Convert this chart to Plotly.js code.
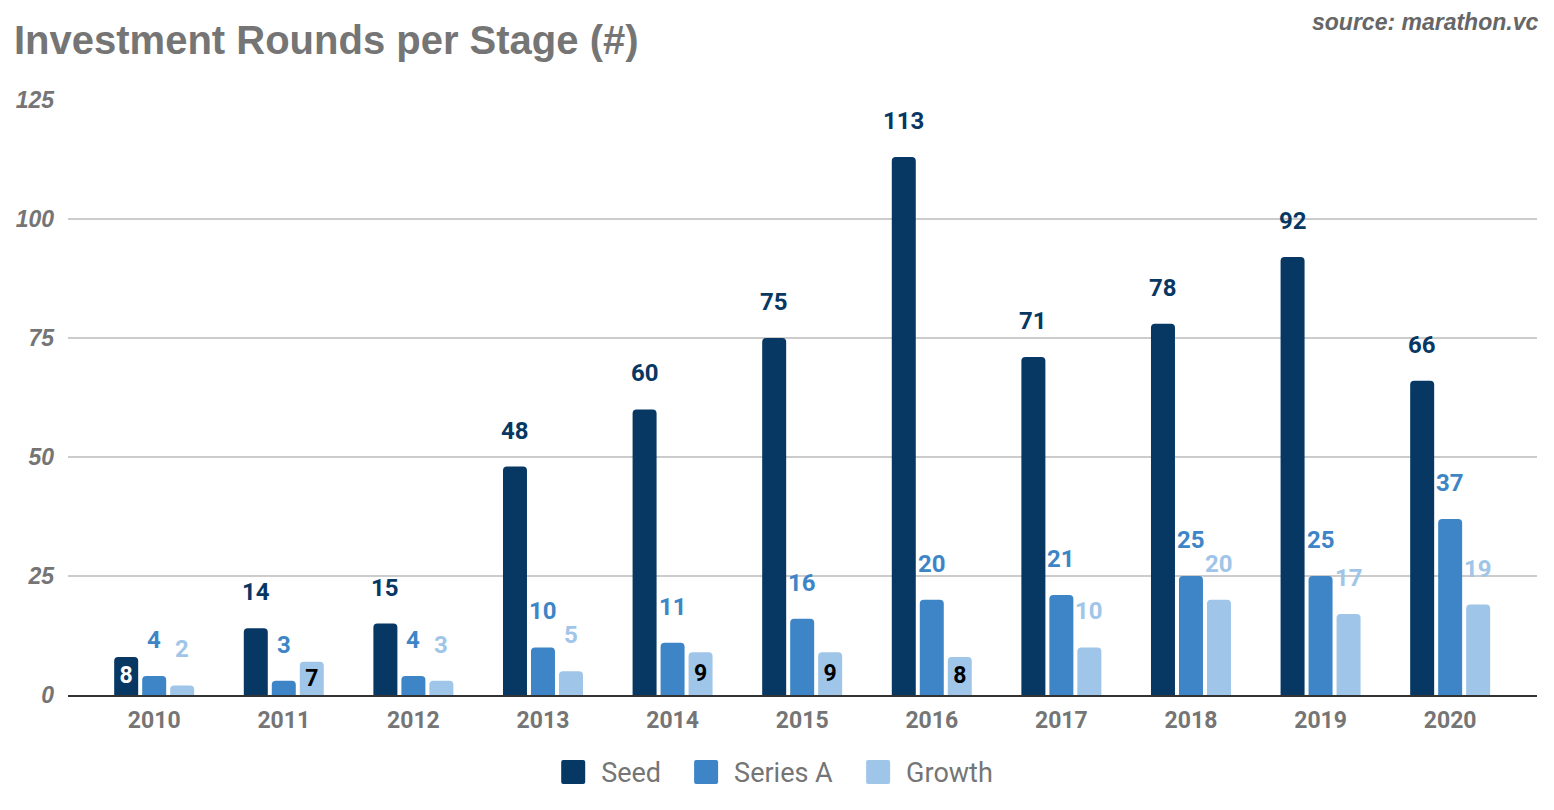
<!DOCTYPE html>
<html>
<head>
<meta charset="utf-8">
<script src="https://cdn.plot.ly/plotly-3.0.1.min.js"></script>
<style>
  html, body { margin: 0; padding: 0; background: #fff; }
  #chart { width: 1554px; height: 810px; }
</style>
</head>
<body>
<div id="chart"></div>
<script>
const years = ['2010','2011','2012','2013','2014','2015','2016','2017','2018','2019','2020'];
const seed    = [8, 14, 15, 48, 60, 75, 113, 71, 78, 92, 66];
const seriesA = [4, 3, 4, 10, 11, 16, 20, 21, 25, 25, 37];
const growth  = [2, 7, 3, 5, 9, 9, 8, 10, 20, 17, 19];
const seriesNames = ['Seed', 'Series A', 'Growth'];
const yTicks = [0, 25, 50, 75, 100, 125];

const colors = ['#073763', '#3d85c6', '#9fc5e8'];
const insideColors = ['#ffffff', '#000000', '#000000'];
const series = [seed, seriesA, growth];

const BARGAP = 0.352;
const slot = (1 - BARGAP) / 3;

// labels that sit inside the bar (small values 7..9 fit in the bar)
function isInside(v) { return v >= 7 && v <= 9; }

const traces = series.map((vals, k) => ({
  type: 'bar',
  name: seriesNames[k],
  x: years,
  y: vals,
  marker: { color: colors[k], line: { width: 0 } },
  text: vals.map(v => String(v)),
  textposition: vals.map(v => isInside(v) ? 'inside' : 'none'),
  insidetextanchor: 'middle',
  insidetextfont: { family: 'Roboto', size: 23, color: insideColors[k], weight: 'bold' },
  textangle: 0,
  cliponaxis: false,
  hoverinfo: 'x+y+name'
}));

const annotations = [];
series.forEach((vals, k) => {
  vals.forEach((v, i) => {
    if (isInside(v)) return;
    annotations.push({
      xref: 'x', yref: 'y',
      x: i + (k - 1) * slot,
      y: v,
      text: '<b>' + v + '</b>',
      showarrow: false,
      yanchor: 'middle',
      yshift: 36,
      font: { family: 'Roboto', size: 24, color: colors[k] }
    });
  });
});

annotations.push({
  xref: 'paper', yref: 'paper',
  x: 1.002, y: 1.0,
  xanchor: 'right', yanchor: 'middle',
  yshift: 78,
  text: '<b><i>source: marathon.vc</i></b>',
  showarrow: false,
  font: { family: 'Liberation Sans', size: 23, color: '#666666' }
});

const layout = {
  width: 1554,
  height: 810,
  margin: { l: 68, r: 17, t: 100, b: 115 },
  paper_bgcolor: '#ffffff',
  plot_bgcolor: '#ffffff',
  barmode: 'group',
  bargap: BARGAP,
  bargroupgap: 0.143,
  barcornerradius: 4,
  title: {
    text: '<b>Investment Rounds per Stage (#)</b>',
    x: 0.009, xanchor: 'left',
    y: 0.951, yanchor: 'middle',
    font: { family: 'Liberation Sans', size: 40, color: '#757575' }
  },
  xaxis: {
    type: 'category',
    range: [-0.665, 10.67],
    showgrid: false,
    showline: true,
    linecolor: '#333333',
    linewidth: 2,
    ticks: '',
    ticklabelstandoff: 3,
    tickfont: { family: 'Roboto', size: 23, color: '#757575', weight: 'bold' },
    fixedrange: true
  },
  yaxis: {
    range: [0, 125],
    tickvals: yTicks,
    ticktext: yTicks.map(t => '<b><i>' + t + '</i></b>'),
    showgrid: true,
    gridcolor: '#cccccc',
    gridwidth: 1.5,
    zeroline: false,
    showline: false,
    ticks: '',
    ticklabelstandoff: 13,
    tickfont: { family: 'Liberation Sans', size: 23, color: '#757575' },
    fixedrange: true
  },
  showlegend: true,
  legend: {
    orientation: 'h',
    x: 0.5, xanchor: 'center',
    y: -0.13, yanchor: 'middle',
    font: { family: 'Roboto', size: 27, color: '#757575' },
    entrywidth: 170, entrywidthmode: 'pixels',
    itemclick: false, itemdoubleclick: false,
    tracegroupgap: 0
  },
  annotations: annotations
};

// Google-Sheets-style legend entries: 24px swatch, 16px gap to text, 33px between entries
function restyleLegend() {
  const items = Array.from(document.querySelectorAll('.legend g.traces'));
  if (!items.length) return;
  const SW = 24, GAP_TXT = 16, GAP_ITEM = 33, CENTER_X = 777;
  const widths = items.map(it => it.querySelector('text.legendtext').getBBox().width);
  const total = widths.reduce((s, w) => s + SW + GAP_TXT + w, 0) + GAP_ITEM * (items.length - 1);
  let pageX = CENTER_X - total / 2;
  items.forEach((it, i) => {
    const p = it.querySelector('.legendpoints path');
    if (p) {
      p.setAttribute('transform', '');
      p.setAttribute('d', 'M2,-12H22A2,2 0 0 1 24,-10V10A2,2 0 0 1 22,12H2A2,2 0 0 1 0,10V-10A2,2 0 0 1 2,-12Z');
    }
    const txt = it.querySelector('text.legendtext');
    txt.setAttribute('x', SW + GAP_TXT);
    const tr = it.getAttribute('transform') || '';
    const m = tr.match(/translate\(\s*([-\d.e]+)[ ,]+([-\d.e]+)\s*\)/);
    const curX = m ? parseFloat(m[1]) : 0;
    const curY = m ? parseFloat(m[2]) : 0;
    const originPage = it.getScreenCTM().e;
    const parentOrigin = originPage - curX;
    it.setAttribute('transform', 'translate(' + (pageX - parentOrigin) + ',' + curY + ')');
    pageX += SW + GAP_TXT + widths[i] + GAP_ITEM;
  });
}

Plotly.newPlot('chart', traces, layout, { displayModeBar: false, responsive: false, staticPlot: true }).then(restyleLegend);
</script>
</body>
</html>
